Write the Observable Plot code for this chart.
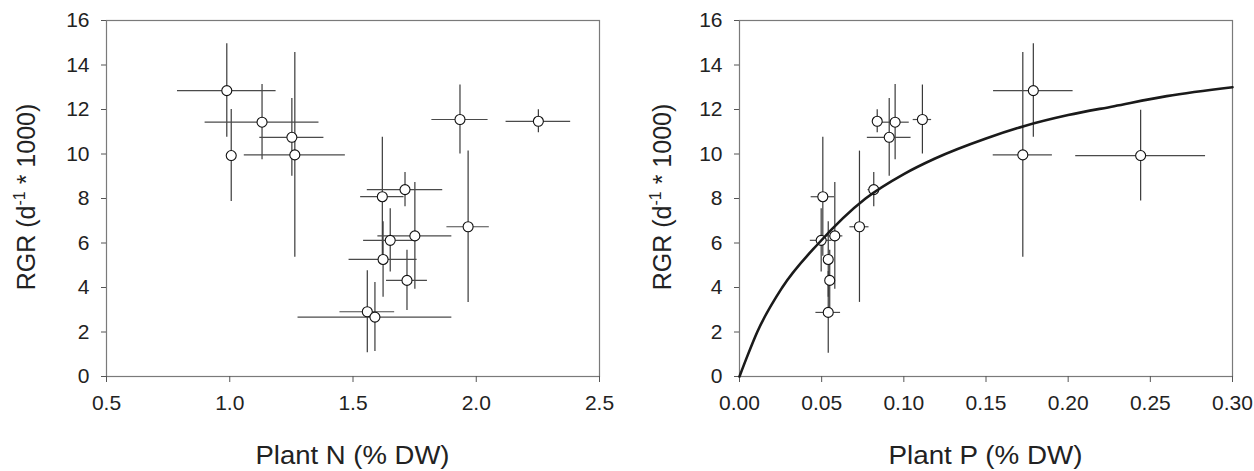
<!DOCTYPE html>
<html>
<head>
<meta charset="utf-8">
<script src="https://cdn.jsdelivr.net/npm/d3@7"></script>
<script src="https://cdn.jsdelivr.net/npm/@observablehq/plot@0.6"></script>
<style>
  html, body { margin: 0; padding: 0; background: white; }
  #wrap { display: flex; width: 1254px; height: 471px; overflow: hidden; }
</style>
</head>
<body>
<div id="wrap"></div>
<script>
// ---- Left panel: RGR vs plant N ----
const nX    = [0.988, 1.131, 1.252, 1.006, 1.264, 1.934, 2.252, 1.711, 1.619, 1.751, 1.622, 1.651, 1.719, 1.967, 1.558, 1.589];
const nXerr = [0.200, 0.231, 0.130, 0.015, 0.205, 0.114, 0.131, 0.153, 0.088, 0.150, 0.138, 0.108, 0.083, 0.086, 0.111, 0.312];
const nY    = [12.85, 11.43, 10.75, 9.93, 9.96, 11.55, 11.47, 8.40, 8.08, 6.32, 5.26, 6.12, 4.32, 6.73, 2.91, 2.67];
const nYerr = [2.10, 1.69, 1.75, 2.07, 4.60, 1.55, 0.52, 0.77, 2.67, 2.40, 1.70, 1.42, 1.35, 3.40, 1.84, 1.55];

// ---- Right panel: RGR vs plant P ----
const pX    = [0.1788, 0.1724, 0.2441, 0.0947, 0.0838, 0.0911, 0.1113, 0.0817, 0.0730, 0.0507, 0.0497, 0.0580, 0.0540, 0.0549, 0.0540];
const pXerr = [0.0242, 0.0180, 0.0395, 0.0086, 0.0027, 0.0133, 0.0056, 0.0035, 0.0058, 0.0071, 0.0066, 0.0049, 0.0025, 0.0020, 0.0075];
const pY    = [12.85, 9.96, 9.93, 11.43, 11.47, 10.75, 11.55, 8.40, 6.73, 8.08, 6.12, 6.32, 5.26, 4.32, 2.88];
const pYerr = [2.10, 4.60, 2.04, 1.69, 0.52, 1.75, 1.55, 0.77, 3.40, 2.67, 1.42, 2.40, 1.70, 1.35, 1.84];

// fitted curve, points
const curveX = [0, 0.005, 0.0108, 0.026, 0.0483, 0.0767, 0.100, 0.119, 0.150, 0.173, 0.200, 0.228, 0.260, 0.300];
const curveY = [0, 0.96, 2.0, 4.0, 6.0, 8.0, 9.1, 9.8, 10.7, 11.25, 11.75, 12.15, 12.6, 13.0];

// ticks
const yTicks  = [0, 2, 4, 6, 8, 10, 12, 14, 16];
const nTicks  = [0.5, 1.0, 1.5, 2.0, 2.5];
const pTicks  = [0, 0.05, 0.10, 0.15, 0.20, 0.25, 0.30];

const xTitleN = "Plant N (% DW)";
const xTitleP = "Plant P (% DW)";

const FONT = "'Liberation Sans', Arial, Helvetica, sans-serif";

function rows(xs, xe, ys, ye) {
  return xs.map((x, i) => ({x, xe: xe[i], y: ys[i], ye: ye[i]}));
}

function panel({data, xDomain, xTicks, xFmt, marginLeft, marginRight, xTitle, yTitleX, curve}) {
  const marks = [
    Plot.frame({stroke: "#7a7a7a", strokeWidth: 1.2}),
    Plot.axisY({ticks: yTicks, tickSize: 5, tickPadding: 12, label: null, stroke: "#555", fontSize: 21}),
    Plot.axisX({ticks: xTicks, tickFormat: xFmt, tickSize: 6, tickPadding: 13, label: null, stroke: "#555", fontSize: 21}),
    Plot.ruleX(data, {x: "x", y1: d => d.y - d.ye, y2: d => d.y + d.ye, stroke: "#3a3a3a", strokeWidth: 1.2}),
    Plot.ruleY(data, {y: "y", x1: d => d.x - d.xe, x2: d => d.x + d.xe, stroke: "#4a4a4a", strokeWidth: 1.2}),
    Plot.dot(data, {x: "x", y: "y", r: 5, fill: "white", stroke: "#111", strokeWidth: 1.1})
  ];
  if (curve) {
    marks.push(Plot.line(curve, {x: "x", y: "y", curve: "monotone-x", stroke: "#1a1a1a", strokeWidth: 2.6}));
  }
  const plot = Plot.plot({
    width: 627,
    height: 471,
    marginLeft,
    marginRight,
    marginTop: 20,
    marginBottom: 95,
    style: {fontFamily: FONT, fontSize: "21px", color: "#222", background: "white", overflow: "visible"},
    x: {domain: xDomain, label: null},
    y: {domain: [0, 16], label: null},
    marks
  });
  const svg = d3.select(plot);
  const innerCenter = marginLeft + (627 - marginLeft - marginRight) / 2;
  svg.append("text")
    .attr("x", innerCenter)
    .attr("y", 464)
    .attr("text-anchor", "middle")
    .attr("font-family", FONT)
    .attr("font-size", 25)
    .attr("fill", "#222")
    .attr("textLength", 194)
    .attr("lengthAdjust", "spacingAndGlyphs")
    .text(xTitle);
  const yt = svg.append("text")
    .attr("transform", `translate(${yTitleX},197) rotate(-90)`)
    .attr("text-anchor", "middle")
    .attr("font-family", FONT)
    .attr("font-size", 25)
    .attr("fill", "#222");
  yt.append("tspan").text("RGR (d");
  yt.append("tspan").attr("font-size", 16).attr("dy", -10).text("-1");
  yt.append("tspan").attr("dy", 10).text(" * 1000)");
  return plot;
}

const wrap = document.getElementById("wrap");
wrap.appendChild(panel({
  data: rows(nX, nXerr, nY, nYerr),
  xDomain: [0.5, 2.5],
  xTicks: nTicks,
  xFmt: d3.format(".1f"),
  marginLeft: 106,
  marginRight: 28,
  xTitle: xTitleN,
  yTitleX: 35
}));
wrap.appendChild(panel({
  data: rows(pX, pXerr, pY, pYerr),
  xDomain: [0, 0.30],
  xTicks: pTicks,
  xFmt: d3.format(".2f"),
  marginLeft: 112,
  marginRight: 22,
  xTitle: xTitleP,
  yTitleX: 44,
  curve: curveX.map((x, i) => ({x, y: curveY[i]}))
}));
</script>
</body>
</html>
